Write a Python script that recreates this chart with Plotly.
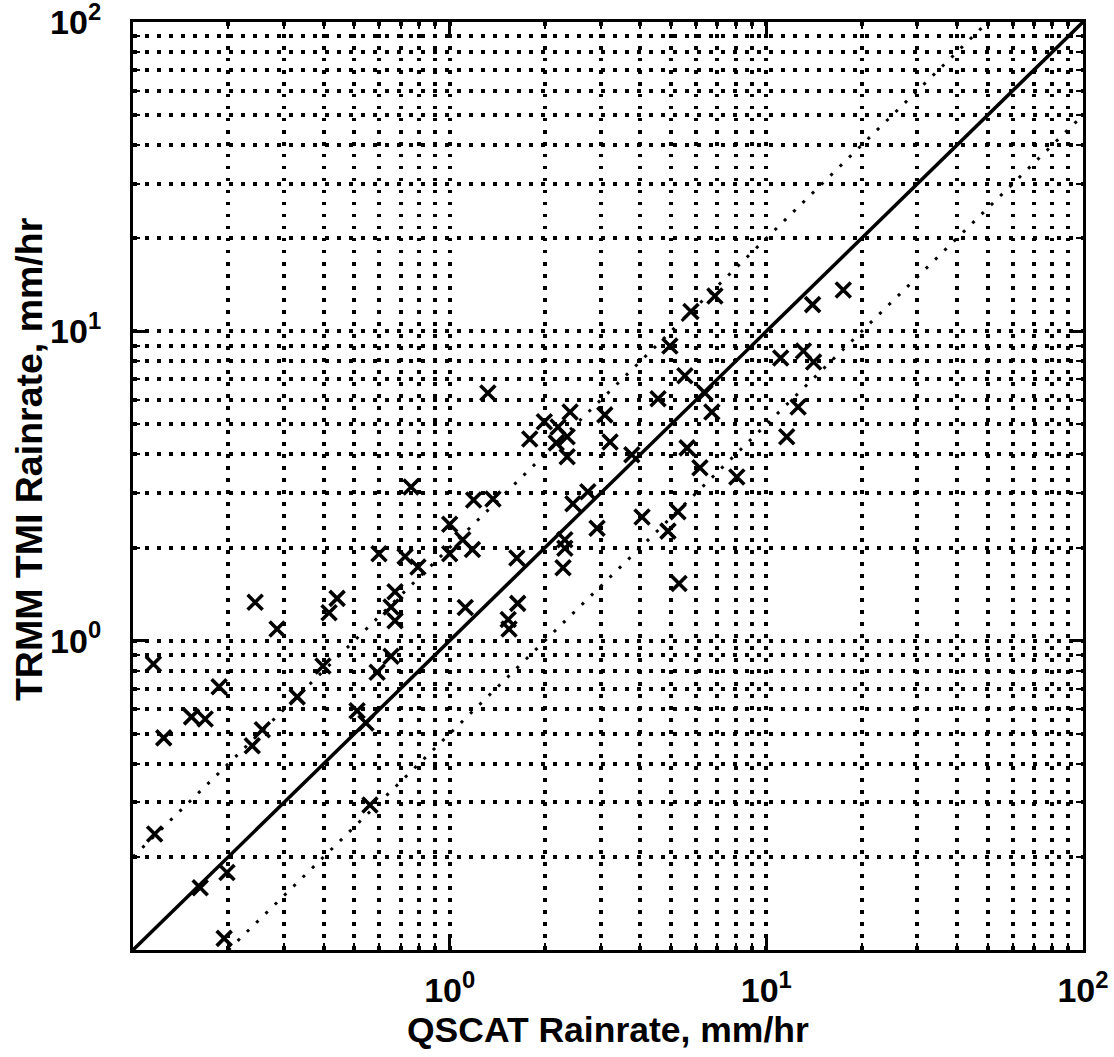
import plotly.graph_objects as go

# ---- data ----
qscat = [0.116, 0.125, 0.153, 0.169, 0.187, 0.238, 0.256, 0.243, 0.285, 0.33,
         0.398, 0.416, 0.441, 0.56, 0.117, 0.198, 0.163, 0.194, 0.59, 0.653,
         0.672, 0.653, 0.672, 0.51, 0.544, 0.755, 0.598, 0.723, 0.794, 1.0,
         1.0, 1.10, 1.18, 1.12, 1.32, 1.19, 1.37, 1.63, 1.64, 1.53,
         1.54, 1.79, 1.99, 2.20, 2.35, 2.17, 2.35, 2.40, 2.73, 2.45,
         2.92, 2.31, 2.31, 2.28, 3.09, 3.21, 3.76, 4.55, 4.96, 5.53,
         6.40, 6.73, 5.62, 6.17, 8.07, 4.05, 5.26, 4.89, 5.30, 5.78,
         6.88, 11.1, 13.1, 14.1, 14.0, 17.5, 12.6, 11.6]
trmm = [0.84, 0.485, 0.567, 0.558, 0.71, 0.457, 0.515, 1.33, 1.09, 0.658,
        0.828, 1.23, 1.37, 0.294, 0.237, 0.178, 0.159, 0.109, 0.79, 0.89,
        1.44, 1.285, 1.16, 0.593, 0.542, 3.14, 1.91, 1.87, 1.73, 2.38,
        1.91, 2.12, 1.97, 1.28, 6.32, 2.85, 2.87, 1.85, 1.32, 1.17,
        1.09, 4.49, 5.10, 4.91, 4.56, 4.36, 3.93, 5.49, 3.03, 2.77,
        2.31, 2.12, 1.99, 1.72, 5.37, 4.39, 3.99, 6.05, 8.97, 7.18,
        6.32, 5.49, 4.20, 3.62, 3.38, 2.51, 2.61, 2.26, 1.53, 11.6,
        13.0, 8.2, 8.64, 7.96, 12.2, 13.6, 5.69, 4.56]

ref_x = [0.1, 100]                   # 1:1 line
ref_y = [0.1, 100]
upper_x = [0.1, 50]                  # factor-of-two lines
upper_y = [0.2, 100]
lower_x = [0.2, 100]
lower_y = [0.1, 50]

major_vals = [1, 10, 100]
major_text = ["10<sup>0</sup>", "10<sup>1</sup>", "10<sup>2</sup>"]
minor_vals = [m * d for d in (0.1, 1, 10) for m in range(2, 10)]

x_title = "QSCAT Rainrate, mm/hr"
y_title = "TRMM TMI Rainrate, mm/hr"

FONT = "Liberation Sans, Arial, Helvetica, sans-serif"

fig = go.Figure()

diag_style = dict(color="black", width=3, dash="3px,10px")
fig.add_trace(go.Scatter(x=upper_x, y=upper_y, mode="lines", line=diag_style,
                         hoverinfo="skip", showlegend=False))
fig.add_trace(go.Scatter(x=lower_x, y=lower_y, mode="lines", line=diag_style,
                         hoverinfo="skip", showlegend=False))
fig.add_trace(go.Scatter(x=ref_x, y=ref_y, mode="lines",
                         line=dict(color="black", width=3.5),
                         hoverinfo="skip", showlegend=False))
fig.add_trace(go.Scatter(x=qscat, y=trmm, mode="markers",
                         marker=dict(symbol="x-thin", size=15, color="black",
                                     line=dict(color="black", width=3.6)),
                         showlegend=False))

eps = 1e-4
axis_common = dict(
    type="log",
    range=[-1 - eps, 2 + eps],
    automargin=False,
    tickmode="array",
    tickvals=major_vals,
    ticktext=major_text,
    ticks="inside",
    ticklen=13,
    tickwidth=2.5,
    tickcolor="black",
    showline=True,
    linecolor="black",
    linewidth=3,
    mirror="allticks",
    showgrid=True,
    gridcolor="black",
    gridwidth=3.5,
    griddash="3.5px,8.5px",
    zeroline=False,
    ticklabeloverflow="allow",
    tickfont=dict(family=FONT, size=34, color="black", weight="bold"),
    minor=dict(tickmode="array", tickvals=[0.1] + minor_vals, ticks="inside",
               ticklen=7, tickwidth=2, tickcolor="black",
               showgrid=True, gridcolor="black", gridwidth=3.5,
               griddash="3.5px,8.5px"),
)

fig.update_xaxes(**axis_common, ticklabelstandoff=8)
fig.update_yaxes(**axis_common, ticklabelstandoff=22)

fig.add_annotation(text=x_title, xref="paper", yref="paper", x=0.5, y=0,
                   xanchor="center", yanchor="middle", yshift=-80,
                   showarrow=False,
                   font=dict(family=FONT, size=35.5, color="black", weight="bold"))
fig.add_annotation(text=y_title, xref="paper", yref="paper", x=0, y=0.529,
                   xanchor="center", yanchor="middle", xshift=-104,
                   textangle=-90, showarrow=False,
                   font=dict(family=FONT, size=37.5, color="black", weight="bold"))

fig.update_layout(
    width=1114, height=1057,
    margin=dict(l=133, r=31, t=22, b=107, autoexpand=False),
    paper_bgcolor="white",
    plot_bgcolor="white",
    font=dict(family=FONT, color="black"),
)

# remove the browser's default 8px body margin so the figure fills the window
fig.write_html("out.html",
               config={"displayModeBar": False},
               post_script="document.body.style.margin='0px';"
                           "document.body.style.overflow='hidden';")
